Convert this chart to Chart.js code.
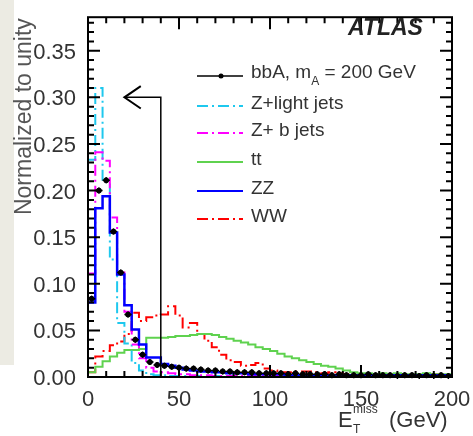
<!DOCTYPE html>
<html>
<head>
<meta charset="utf-8">
<script src="https://cdn.jsdelivr.net/npm/chart.js@4.4.1/dist/chart.umd.min.js"></script>
<style>
  html, body { margin: 0; padding: 0; background: #fff; }
  #wrap { position: relative; width: 473px; height: 436px; }
  #strip { position: absolute; left: 0; top: 0; width: 14px; height: 365px; background: #ecebe3; }
  canvas { position: absolute; left: 0; top: 0; }
</style>
</head>
<body>
<div id="wrap"><div id="strip"></div><canvas id="c" width="473" height="436"></canvas></div>
<script>
// 4 GeV bins from 0 to 200 GeV
const binWidth = 4;
const nBins = 50;

const signal = [0.084,0.200,0.211,0.156,0.112,0.067,0.040,0.024,0.016,0.013,
  0.012,0.011,0.010,0.009,0.009,0.008,0.007,0.007,0.006,0.006,
  0.005,0.005,0.005,0.004,0.004,0.004,0.004,0.003,0.004,0.003,
  0.003,0.003,0.003,0.002,0.003,0.002,0.002,0.002,0.003,0.002,
  0.002,0.002,0.001,0.002,0.002,0.001,0.002,0.001,0.002,0.001];
const zLight = [0.233,0.310,0.210,0.126,0.058,0.036,0.015,0.007,0.003,0.002,
  0.002,0.001,0.001,0.001,0.001,0.001,0.000,0.001,0.000,0.001,
  0.000,0.000,0.001,0.000,0.000,0.000,0.000,0.000,0.000,0.000,
  0.000,0.000,0.000,0.000,0.000,0.000,0.000,0.000,0.000,0.000,
  0.000,0.000,0.000,0.000,0.000,0.000,0.000,0.000,0.000,0.000];
const zBjets = [0.111,0.241,0.232,0.171,0.112,0.070,0.035,0.020,0.010,0.006,
  0.005,0.004,0.003,0.003,0.002,0.002,0.002,0.001,0.001,0.001,
  0.001,0.001,0.001,0.001,0.001,0.001,0.001,0.001,0.001,0.001,
  0.001,0.001,0.001,0.001,0.001,0.001,0.001,0.001,0.001,0.001,
  0.001,0.001,0.001,0.001,0.001,0.001,0.001,0.001,0.001,0.001];
const ttbar = [0.005,0.011,0.017,0.022,0.026,0.029,0.029,0.030,0.042,0.042,
  0.042,0.043,0.044,0.044,0.045,0.046,0.046,0.045,0.043,0.041,
  0.039,0.037,0.035,0.032,0.030,0.028,0.025,0.022,0.020,0.018,
  0.016,0.014,0.012,0.011,0.009,0.007,0.005,0.004,0.004,0.003,
  0.004,0.003,0.004,0.003,0.003,0.003,0.004,0.003,0.003,0.003];
const zz = [0.080,0.181,0.194,0.155,0.110,0.077,0.051,0.035,0.021,0.021,
  0.014,0.012,0.010,0.008,0.007,0.006,0.006,0.005,0.005,0.004,
  0.004,0.004,0.003,0.003,0.003,0.003,0.003,0.002,0.002,0.002,
  0.002,0.002,0.002,0.002,0.002,0.002,0.002,0.002,0.002,0.002,
  0.002,0.002,0.002,0.002,0.002,0.002,0.002,0.002,0.002,0.002];
const ww = [0.005,0.022,0.028,0.034,0.038,0.046,0.069,0.060,0.064,0.066,
  0.067,0.076,0.066,0.053,0.058,0.046,0.039,0.032,0.024,0.018,
  0.016,0.012,0.013,0.015,0.009,0.007,0.005,0.005,0.006,0.006,
  0.006,0.005,0.004,0.005,0.004,0.003,0.003,0.002,0.003,0.002,
  0.003,0.002,0.002,0.002,0.003,0.002,0.002,0.003,0.002,0.002];

const xTicks = [0, 50, 100, 150, 200];
const yTicks = [0, 0.05, 0.10, 0.15, 0.20, 0.25, 0.30, 0.35];

// cut arrow: MET < 40 GeV
const cutValue = 40;
const arrowLevel = 0.30;
const arrowTip = 20;

const legendNames = ['bbA, m_A = 200 GeV', 'Z+light jets', 'Z+ b jets', 'tt', 'ZZ', 'WW'];

const dashDot = [11, 4, 2, 4];

function histo(vals) {
  const pts = vals.map((v, i) => ({x: i * binWidth, y: v}));
  pts.push({x: nBins * binWidth, y: vals[vals.length - 1]});
  return pts;
}

const ds = [
  {label: legendNames[1], data: histo(zLight), borderColor: '#1ec8ee', borderWidth: 2, borderDash: dashDot, order: 5},
  {label: legendNames[2], data: histo(zBjets), borderColor: '#ff00ff', borderWidth: 2, borderDash: dashDot, order: 4},
  {label: legendNames[3], data: histo(ttbar), borderColor: '#5fd24f', borderWidth: 2, order: 6},
  {label: legendNames[5], data: histo(ww), borderColor: '#ff0000', borderWidth: 2, borderDash: dashDot, order: 7},
  {label: legendNames[4], data: histo(zz), borderColor: '#0000ff', borderWidth: 2.5, order: 2},
].map(d => Object.assign(d, {stepped: true, pointRadius: 0, fill: false}));

ds.push({
  label: legendNames[0], data: signal.map((v, i) => ({x: (i + 0.5) * binWidth, y: v})),
  showLine: false, pointRadius: 2.5, pointStyle: 'circle', backgroundColor: '#000', borderColor: '#000', order: 1
});
ds.push({
  label: 'cut', data: [{x: cutValue, y: 0}, {x: cutValue, y: arrowLevel}, {x: arrowTip, y: arrowLevel}],
  borderColor: '#000', borderWidth: 1.5, pointRadius: 0, order: 0
});
ds.push({
  label: 'head', data: [{x: arrowTip + 9, y: arrowLevel + 0.012}, {x: arrowTip, y: arrowLevel}, {x: arrowTip + 9, y: arrowLevel - 0.012}],
  borderColor: '#000', borderWidth: 2, pointRadius: 0, order: 0
});

const decorations = {
  id: 'decorations',
  afterDatasetsDraw(chart) {
    const {ctx, chartArea: a, scales: {x, y}} = chart;
    ctx.save();
    // signal bin bars and small error bars
    ctx.strokeStyle = '#000';
    ctx.lineWidth = 1.5;
    ctx.beginPath();
    signal.forEach((v, i) => {
      const py = y.getPixelForValue(v);
      ctx.moveTo(x.getPixelForValue(i * binWidth), py);
      ctx.lineTo(x.getPixelForValue((i + 1) * binWidth), py);
      const cx = x.getPixelForValue((i + 0.5) * binWidth);
      ctx.moveTo(cx, py - 3); ctx.lineTo(cx, py + 3);
    });
    ctx.stroke();

    // frame and inward ticks
    ctx.lineWidth = 2;
    ctx.strokeRect(a.left, a.top, a.right - a.left, a.bottom - a.top);
    ctx.beginPath();
    for (let v = 0; v <= 200; v += 10) {
      const px = x.getPixelForValue(v);
      const len = v % 50 === 0 ? 12 : 6;
      ctx.moveTo(px, a.bottom); ctx.lineTo(px, a.bottom - len);
      ctx.moveTo(px, a.top); ctx.lineTo(px, a.top + len);
    }
    for (let i = 0; i <= 38; i++) {
      const py = y.getPixelForValue(i / 100);
      const len = i % 5 === 0 ? 12 : 6;
      ctx.moveTo(a.left, py); ctx.lineTo(a.left + len, py);
      ctx.moveTo(a.right, py); ctx.lineTo(a.right - len, py);
    }
    ctx.stroke();

    // ATLAS label
    ctx.fillStyle = '#222';
    ctx.font = 'bold italic 23px "Liberation Sans", Arial, sans-serif';
    ctx.textBaseline = 'alphabetic';
    ctx.fillText('ATLAS', 348, 35);

    // legend
    const rows = [76, 106, 133, 162, 191, 219];
    const styles = [
      {c: '#000', d: [], w: 1.5}, {c: '#1ec8ee', d: dashDot, w: 2}, {c: '#ff00ff', d: dashDot, w: 2},
      {c: '#5fd24f', d: [], w: 2}, {c: '#0000ff', d: [], w: 2}, {c: '#ff0000', d: dashDot, w: 2}
    ];
    ctx.textBaseline = 'middle';
    rows.forEach((ry, i) => {
      ctx.strokeStyle = styles[i].c;
      ctx.lineWidth = styles[i].w;
      ctx.setLineDash(styles[i].d);
      ctx.beginPath(); ctx.moveTo(197, ry); ctx.lineTo(243, ry); ctx.stroke();
      ctx.setLineDash([]);
      ctx.fillStyle = '#333';
      ctx.font = '19px "Liberation Sans", Arial, sans-serif';
      const name = legendNames[i];
      if (name.includes('_')) {
        const [pre, post] = name.split('_');
        ctx.fillText(pre, 251, ry - 3);
        let w = ctx.measureText(pre).width;
        ctx.font = '12px "Liberation Sans", Arial, sans-serif';
        ctx.fillText(post[0], 251 + w, ry + 6);
        const w2 = ctx.measureText(post[0]).width;
        ctx.font = '19px "Liberation Sans", Arial, sans-serif';
        ctx.fillText(post.slice(1), 251 + w + w2, ry - 3);
      } else {
        ctx.fillText(name, 251, ry - 2);
      }
    });
    ctx.fillStyle = '#000';
    ctx.beginPath(); ctx.arc(221, rows[0], 2.5, 0, Math.PI * 2); ctx.fill();

    // axis titles
    ctx.fillStyle = '#333';
    ctx.textBaseline = 'alphabetic';
    ctx.font = '22px "Liberation Sans", Arial, sans-serif';
    ctx.fillText('E', 338, 427);
    ctx.font = '12px "Liberation Sans", Arial, sans-serif';
    ctx.fillText('miss', 353, 413);
    ctx.fillText('T', 353, 433);
    ctx.font = '22px "Liberation Sans", Arial, sans-serif';
    ctx.fillText('(GeV)', 389, 427);

    ctx.save();
    ctx.translate(31, a.top + 1);
    ctx.rotate(-Math.PI / 2);
    ctx.textAlign = 'right';
    ctx.fillStyle = '#555';
    ctx.font = '23px "Liberation Sans", Arial, sans-serif';
    ctx.fillText('Normalized to unity', 0, 0);
    ctx.restore();
    ctx.restore();
  }
};

new Chart(document.getElementById('c'), {
  type: 'line',
  data: {datasets: ds},
  options: {
    responsive: false,
    animation: false,
    layout: {padding: {top: 12, right: 21, left: 0, bottom: 0}},
    plugins: {legend: {display: false}, tooltip: {enabled: false}},
    scales: {
      x: {
        type: 'linear', min: 0, max: 200,
        afterBuildTicks: s => { s.ticks = xTicks.map(v => ({value: v})); },
        afterFit: s => { s.height = 59; },
        grid: {display: false},
        border: {display: false},
        ticks: {autoSkip: false, maxRotation: 0, padding: 2, color: '#333',
          font: {family: '"Liberation Sans", Arial, sans-serif', size: 22}}
      },
      y: {
        min: 0, max: 0.386,
        afterBuildTicks: s => { s.ticks = yTicks.map(v => ({value: v})); },
        afterFit: s => { s.width = 88; },
        grid: {display: false},
        border: {display: false},
        ticks: {padding: 4, color: '#333', labelOffset: 2,
          callback: v => v.toFixed(2),
          font: {family: '"Liberation Sans", Arial, sans-serif', size: 22}}
      }
    }
  },
  plugins: [decorations]
});
</script>
</body>
</html>
